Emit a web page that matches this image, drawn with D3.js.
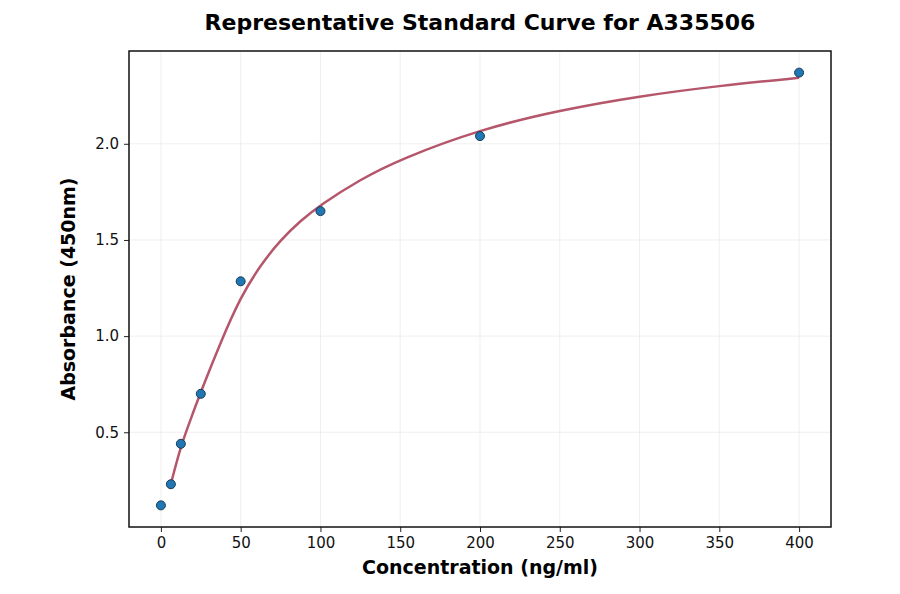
<!DOCTYPE html>
<html>
<head>
<meta charset="utf-8">
<script src="https://cdn.jsdelivr.net/npm/d3@7"></script>
<style>
  body { margin: 0; background: #fff; }
  text { font-family: "DejaVu Sans", sans-serif; }
</style>
</head>
<body>
<div id="chart"></div>
<script>
// measured standards
var concentrations = [0, 6.25, 12.5, 25, 50, 100, 200, 400];
var absorbances = [0.12, 0.23, 0.44, 0.70, 1.285, 1.65, 2.04, 2.37];

// fitted curve
var curveX = [6.25, 12.5, 18.75, 25, 37.5, 50, 62.5, 75, 87.5, 100, 125, 150, 200, 250, 300, 350, 400];
var curveY = [0.232, 0.43, 0.57, 0.71, 0.97, 1.205, 1.37, 1.50, 1.60, 1.683, 1.815, 1.92, 2.075, 2.175, 2.248, 2.302, 2.343];

var xTicks = [0, 50, 100, 150, 200, 250, 300, 350, 400];
var yTicks = [0.5, 1.0, 1.5, 2.0];

var margin = {top: 51, right: 69, bottom: 67, left: 129},
    width = 900 - margin.left - margin.right,
    height = 594 - margin.top - margin.bottom;

var svg = d3.select("#chart")
  .append("svg")
    .attr("width", 900)
    .attr("height", 594)
  .append("g")
    .attr("transform", "translate(" + margin.left + "," + margin.top + ")");

var x = d3.scaleLinear()
  .domain([-20, 420])
  .range([0, width]);

var y = d3.scaleLinear()
  .domain([0.0075, 2.4825])
  .range([height, 0]);

// grid
svg.append("g")
  .selectAll("line")
  .data(xTicks)
  .enter().append("line")
    .attr("x1", function(d) { return x(d); })
    .attr("x2", function(d) { return x(d); })
    .attr("y1", 0)
    .attr("y2", height)
    .attr("stroke", "#ebebeb")
    .attr("stroke-width", 0.8);

svg.append("g")
  .selectAll("line")
  .data(yTicks)
  .enter().append("line")
    .attr("x1", 0)
    .attr("x2", width)
    .attr("y1", function(d) { return y(d); })
    .attr("y2", function(d) { return y(d); })
    .attr("stroke", "#ebebeb")
    .attr("stroke-width", 0.8);

// axes
var xAxis = svg.append("g")
  .attr("transform", "translate(0," + height + ")")
  .call(d3.axisBottom(x).tickValues(xTicks).tickSize(5).tickPadding(5).tickFormat(d3.format("d")));

var yAxis = svg.append("g")
  .call(d3.axisLeft(y).tickValues(yTicks).tickSize(5).tickPadding(5).tickFormat(d3.format(".1f")));

[xAxis, yAxis].forEach(function(a) {
  a.select(".domain").remove();
  a.selectAll("line").attr("stroke", "#222").attr("stroke-width", 1);
  a.selectAll("text")
    .style("font-family", "DejaVu Sans")
    .style("font-size", "15px")
    .attr("fill", "#111");
});

// curve
var line = d3.line()
  .x(function(d) { return x(d[0]); })
  .y(function(d) { return y(d[1]); })
  .curve(d3.curveBasis);

svg.append("path")
  .datum(d3.zip(curveX, curveY))
  .attr("d", line)
  .attr("fill", "none")
  .attr("stroke", "#b5566b")
  .attr("stroke-width", 2.5);

// points
svg.selectAll("circle")
  .data(d3.zip(concentrations, absorbances))
  .enter()
  .append("circle")
    .attr("cx", function(d) { return x(d[0]); })
    .attr("cy", function(d) { return y(d[1]); })
    .attr("r", 4.5)
    .attr("fill", "#1f77b4")
    .attr("stroke", "#1a3a55")
    .attr("stroke-width", 1);

// frame
svg.append("rect")
  .attr("width", width)
  .attr("height", height)
  .attr("fill", "none")
  .attr("stroke", "#111")
  .attr("stroke-width", 1.5);

// labels
svg.append("text")
  .attr("x", width / 2)
  .attr("y", -21)
  .attr("text-anchor", "middle")
  .style("font-size", "22px")
  .style("font-weight", "bold")
  .text("Representative Standard Curve for A335506");

svg.append("text")
  .attr("x", width / 2)
  .attr("y", height + 47)
  .attr("text-anchor", "middle")
  .style("font-size", "19px")
  .style("font-weight", "bold")
  .text("Concentration (ng/ml)");

svg.append("text")
  .attr("transform", "rotate(-90)")
  .attr("x", -height / 2)
  .attr("y", -54)
  .attr("text-anchor", "middle")
  .style("font-size", "19px")
  .style("font-weight", "bold")
  .text("Absorbance (450nm)");
</script>
</body>
</html>
